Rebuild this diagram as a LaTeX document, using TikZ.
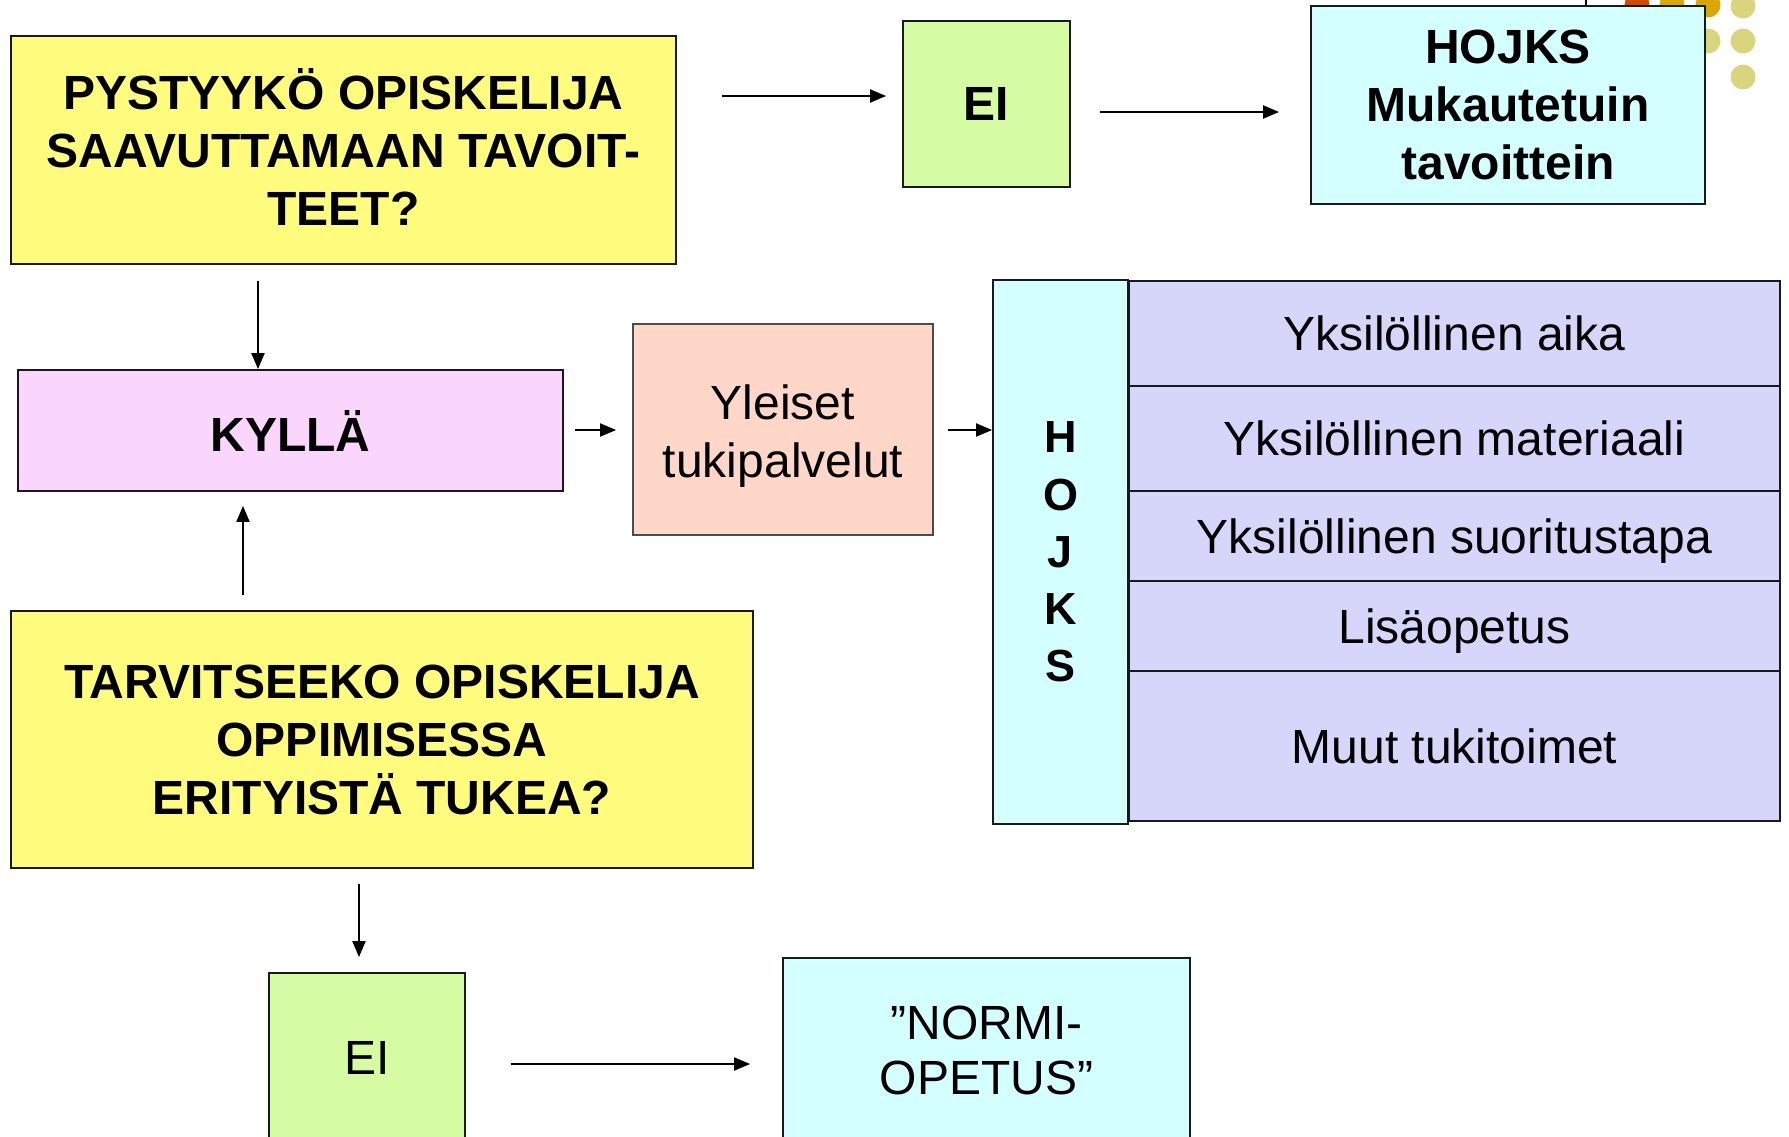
\documentclass[tikz,border=0pt]{standalone}
\usepackage{fontspec}
\setmainfont{Liberation Sans}
\usetikzlibrary{arrows.meta}
\definecolor{qyellow}{HTML}{FFFB7D}
\definecolor{nogreen}{HTML}{D5FCA3}
\definecolor{hcyan}{HTML}{D3FFFF}
\definecolor{yespink}{HTML}{FBD6FC}
\definecolor{peach}{HTML}{FFD7C8}
\definecolor{lav}{HTML}{D6D6FA}
\definecolor{dotred}{HTML}{D84800}
\definecolor{dotgold}{HTML}{DAA800}
\definecolor{dotpale}{HTML}{D8D57C}
\tikzset{
  box/.style={draw=black!90, line width=1.8pt, inner sep=0pt, align=center, font=\fontsize{48}{58}\selectfont},
  bbox/.style={box, font=\fontsize{48}{58}\selectfont\bfseries},
  txt/.style={inner sep=0pt, align=center, font=\fontsize{48}{58}\selectfont},
  btxt/.style={txt, font=\fontsize{48}{58}\selectfont\bfseries},
  arr/.style={line width=2pt, -{Triangle[length=16pt, width=13pt]}}
}
\begin{document}
\begin{tikzpicture}[x=1pt, y=-1pt]
\useasboundingbox (0,0) rectangle (1789,1136);
% decoration
\fill[dotred] (1637,5) circle (12.5);
\fill[dotgold] (1672,5) circle (12.5);
\fill[dotgold] (1708,5) circle (12.5);
\fill[dotpale] (1743,6) circle (12.5);
\fill[dotpale] (1708,41) circle (12.5);
\fill[dotpale] (1743,41) circle (12.5);
\fill[dotpale] (1743,77) circle (12.5);
\draw[line width=1.8pt] (1586,0) -- (1586,7);
% nodes
\node[bbox, fill=qyellow, minimum width=665, minimum height=228] (q1) at (343.5,150) {};
\node[btxt] (q1t) at ([yshift=3]q1.center) {PYSTYYKÖ OPISKELIJA\\SAAVUTTAMAAN TAVOIT-\\TEET?};
\node[bbox, fill=nogreen, minimum width=167, minimum height=166] (ei1) at (986.5,104) {EI};
\node[bbox, fill=hcyan, minimum width=394, minimum height=198] (hoj) at (1508,105)
  {HOJKS\\Mukautetuin\\tavoittein};
\node[bbox, fill=yespink, minimum width=545, minimum height=121] (kyl) at (290.5,430.5) {KYLLÄ};
\node[box, draw=black!70, fill=peach, minimum width=300, minimum height=211] (yle) at (783,429.5) {};
\node[txt] (ylet) at ([yshift=-7]yle.center) {Yleiset\\tukipalvelut};
\node[box, fill=hcyan, minimum width=135, minimum height=544, font=\fontsize{45}{57.25}\selectfont\bfseries] (hcol) at (1060.5,552)
  {H\\O\\J\\K\\S};
\node[box, fill=lav, minimum width=651, minimum height=105, anchor=north west] (r1) at (1128,280) {Yksilöllinen aika};
\node[box, fill=lav, minimum width=651, minimum height=105, anchor=north west] (r2) at (1128,385) {Yksilöllinen materiaali};
\node[box, fill=lav, minimum width=651, minimum height=90, anchor=north west] (r3) at (1128,490) {};
\node[txt] (r3t) at ([yshift=-5]r3.center) {Yksilöllinen suoritustapa};
\node[box, fill=lav, minimum width=651, minimum height=90, anchor=north west] (r4) at (1128,580) {};
\node[txt] (r4t) at ([yshift=-5]r4.center) {Lisäopetus};
\node[box, fill=lav, minimum width=651, minimum height=150, anchor=north west] (r5) at (1128,670) {Muut tukitoimet};
\node[bbox, fill=qyellow, minimum width=742, minimum height=257] (q2) at (382,739.5)
  {TARVITSEEKO OPISKELIJA\\OPPIMISESSA\\ERITYISTÄ TUKEA?};
\node[box, fill=nogreen, minimum width=196, minimum height=170] (ei2) at (367,1058) {EI};
\node[box, fill=hcyan, minimum width=407, minimum height=184, font=\fontsize{48}{55}\selectfont] (normi) at (986.5,1050)
  {”NORMI-\\OPETUS”};
% connectors
\draw[arr, shorten <=45pt, shorten >=16pt] (q1.east |- 0,96) -- (ei1.west |- 0,96);
\draw[arr, shorten <=29pt, shorten >=31pt] (ei1.east |- 0,112) -- (hoj.west |- 0,112);
\draw[arr, shorten <=16pt] (q1.south -| 258,0) -- (kyl.north -| 258,0);
\draw[arr, shorten <=15pt, shorten >=14pt] (q2.north -| 243,0) -- (kyl.south -| 243,0);
\draw[arr, shorten <=11pt, shorten >=16pt] (kyl.east |- 0,430) -- (yle.west |- 0,430);
\draw[arr, shorten <=14pt] (yle.east |- 0,430) -- (hcol.west |- 0,430);
\draw[arr, shorten <=15pt, shorten >=15pt] (q2.south -| 359,0) -- (ei2.north -| 359,0);
\draw[arr, shorten <=45pt, shorten >=32pt] (ei2.east |- 0,1064) -- (normi.west |- 0,1064);
\end{tikzpicture}
\end{document}
